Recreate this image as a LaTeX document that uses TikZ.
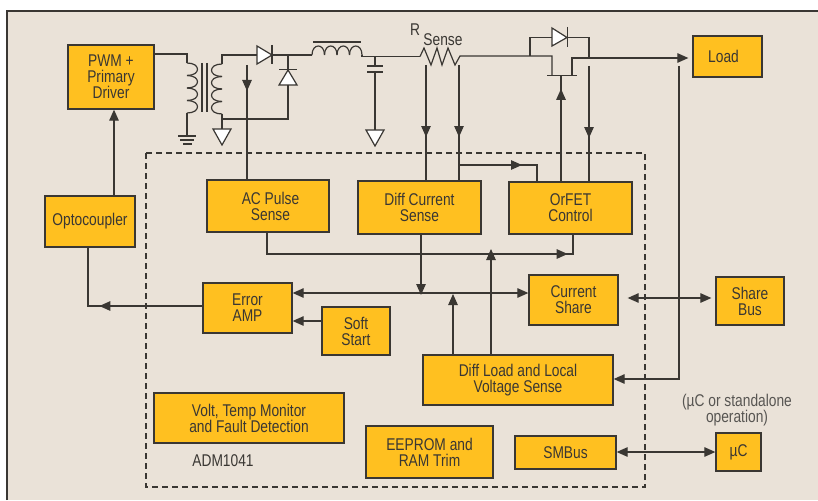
\documentclass[tikz,border=0pt]{standalone}
\usepackage{fontspec}
\setmainfont[FakeStretch=0.81]{Liberation Sans}
\usepackage{tikz}
\usetikzlibrary{
  arrows.meta,
  decorations.markings
}
\definecolor{paper}{HTML}{EAE2D8}
\definecolor{blockfill}{HTML}{FFC020}
\definecolor{ink}{HTML}{3A3733}
\tikzset{
  x=1pt,
  y=-1pt,
  >={Triangle[length=11pt,width=9.5pt]},
  wire/.style={draw=ink, line width=1.2pt},
  block/.style={draw=ink, fill=blockfill, line width=1.3pt, text=ink, inner sep=0pt, align=center,
    font=\fontsize{17}{16}\selectfont},
  label/.style={text=ink, inner sep=0pt, align=center, font=\fontsize{17}{16}\selectfont},
  tipat/.style={postaction={decorate}, decoration={markings, mark=at position #1pt with {\arrow{>}}}},
  gndtri/.pic={\draw[wire, fill=white] (-9,0) -- (9,0) -- (0,16) -- cycle;}
}
\begin{document}
\begin{tikzpicture}
    \useasboundingbox (0,0) rectangle (818,500);
    \fill[paper] (7,11) rectangle (818,500);
    \draw[ink, line width=1.2pt] (7,500) -- (7,11) -- (818,11);
    \draw[ink, line width=1.2pt, dash pattern=on 6pt off 4pt] (146,153) rectangle (645,487);

    \node[block, minimum width=86pt, minimum height=64pt] (pwm) at (111,77) {PWM +\\Primary\\Driver};
    \node[block, minimum width=69pt, minimum height=41pt] (load) at (727.5,56.5) {\hspace*{-8pt}Load};
    \node[block, minimum width=90pt, minimum height=51pt] (opto) at (90,221.5) {Optocoupler};
    \node[block, minimum width=122pt, minimum height=52pt] (acpulse) at (268,206) {\hspace*{5pt}AC Pulse\\\hspace*{5pt}Sense};
    \node[block, minimum width=123pt, minimum height=53pt] (diffcur) at (419.5,207.5) {Diff Current\\Sense};
    \node[block, minimum width=123pt, minimum height=52pt] (orfet) at (570.5,208) {OrFET\\Control};
    \node[block, minimum width=89pt, minimum height=50pt] (erramp) at (247.5,308) {Error\\AMP};
    \node[block, minimum width=68pt, minimum height=48pt] (softstart) at (356,331) {Soft\\Start};
    \node[block, minimum width=89pt, minimum height=50pt] (curshare) at (573.5,300) {Current\\Share};
    \node[block, minimum width=68pt, minimum height=48pt] (sharebus) at (750,301) {Share\\Bus};
    \node[block, minimum width=190pt, minimum height=50pt] (diffload) at (518,380) {Diff Load and Local\\Voltage Sense};
    \node[block, minimum width=190pt, minimum height=50pt] (monitor) at (249,418) {Volt, Temp Monitor\\and Fault Detection};
    \node[block, minimum width=127pt, minimum height=52pt] (eeprom) at (429.5,452) {EEPROM and\\RAM Trim};
    \node[block, minimum width=101pt, minimum height=33pt] (smbus) at (565.5,452.5) {SMBus};
    \node[block, minimum width=45pt, minimum height=38pt] (uc) at (738.5,452) {µC};

    \node[label] (rlabel) at (415,30) {R};
    \node[label] (senselabel) at (443,39.5) {Sense};
    \node[label] (adm) at (223,461) {ADM1041};
    \node[label, text=ink!85] (standalone) at (737,410) {(µC or standalone\\operation)};

    % free ends of the sense lines
    \coordinate (acin) at (247,65);
    \coordinate (senseleft) at (426,65);
    \coordinate (senseright) at (459,65);
    \coordinate (gate) at (561,76);
    \coordinate (drainsense) at (589,66);
    \coordinate (loadsense) at (679,66);
    \coordinate (fetout) at (572,58);

    % power path
    \draw[wire] (pwm.east |- 0,54) -- (187,54) -- (187,63);
    \foreach \k in {0,1,2,3}
      \draw[wire] ({187},{63+12.5*\k}) .. controls ({201},{63+12.5*\k}) and ({201},{75.5+12.5*\k}) .. ({187},{75.5+12.5*\k});
    \draw[wire] (187,113) -- (187,136);
    \draw[wire] (178,136) -- (196,136) (180,140) -- (194,140) (183,144) -- (192,144);
    \draw[wire] (202,63) -- (202,112) (207,63) -- (207,112);
    \foreach \k in {0,1,2,3}
      \draw[wire] ({222},{64+12.5*\k}) .. controls ({208},{64+12.5*\k}) and ({208},{76.5+12.5*\k}) .. ({222},{76.5+12.5*\k});
    \draw[wire] (222,64) -- (222,55) -- (257,55);
    \draw[wire] (222,114) -- (222,129);
    \pic at (222,129) {gndtri};
    \draw[wire, fill=white] (257,46) -- (272,55) -- (257,64) -- cycle;
    \draw[wire] (272,45) -- (272,64);
    \draw[wire] (272,55) -- (312,55);
    \draw[wire] (288,55) -- (288,70);
    \draw[wire, fill=white] (279,85) -- (297,85) -- (288,70) -- cycle;
    \draw[wire] (279,69.5) -- (297,69.5);
    \draw[wire] (288,85) -- (288,119) -- (222,119);
    \foreach \k in {0,1,2,3}
      \draw[wire] ({312+12.5*\k},{55}) .. controls ({312+12.5*\k},{43}) and ({324.5+12.5*\k},{43}) .. ({324.5+12.5*\k},{55});
    \draw[wire] (313,42) -- (361,42);
    \draw[wire] (362,55) -- (362,56.5) -- (420,56.5);
    \draw[wire] (375,56.5) -- (375,66);
    \draw[wire] (367,66) -- (383,66) (367,72) -- (383,72);
    \draw[wire] (375,72) -- (375,130);
    \pic at (375,130) {gndtri};
    \draw[wire] (420,56.5) -- (424,48) -- (431,65) -- (437,48) -- (442,65) -- (448,48) -- (455,65) -- (460,56) -- (552,56) -- (552,75.5);
    \draw[wire] (547,75.5) -- (577,75.5);
    \draw[wire, shorten >=4pt, ->] (572,75.5) -- (fetout) -- (load.west |- fetout);
    \draw[wire] (530,56) -- (530,37.5) -- (552,37.5);
    \draw[wire, fill=white] (552,28) -- (567,37.5) -- (552,46) -- cycle;
    \draw[wire] (567.5,27) -- (567.5,47);
    \draw[wire] (567.5,37.5) -- (589,37.5) -- (589,58);

    % blocks
    \draw[wire, ->] (opto.north -| 114,0) -- (pwm.south -| 114,0);
    \draw[wire, tipat=103] (erramp.west |- 0,306) -- (88,306) -- (opto.south -| 88,0);
    \draw[wire, tipat=26] (acin) -- (acpulse.north -| acin);
    \draw[wire, tipat=72] (senseleft) -- (diffcur.north -| senseleft);
    \draw[wire, tipat=72] (senseright) -- (diffcur.north -| senseright);
    \draw[wire, tipat=63] (459,165) -- (537,165) -- (orfet.north -| 537,0);
    \draw[wire, tipat=92.5] (orfet.north -| gate) -- (gate);
    \draw[wire, tipat=72] (drainsense) -- (orfet.north -| drainsense);
    \draw[wire, ->] (loadsense) -- (679,379) -- (diffload.east |- 0,379);
    \draw[wire, tipat=322] (acpulse.south -| 267,0) -- (267,254) -- (573,254) -- (orfet.south -| 573,0);
    \draw[wire, ->] (diffcur.south -| 421,0) -- (421,295);
    \draw[wire, <->] (erramp.east |- 0,293) -- (curshare.west |- 0,293);
    \draw[wire, ->] (softstart.west |- 0,321) -- (erramp.east |- 0,321);
    \draw[wire, ->] (diffload.north -| 453,0) -- (453,294);
    \draw[wire, ->] (diffload.north -| 491,0) -- (491,249);
    \draw[wire, <->, shorten <=9pt, shorten >=4pt] (curshare.east |- 0,298) -- (sharebus.west |- 0,298);
    \draw[wire, <->] (smbus.east |- 0,452) -- (uc.west |- 0,452);
  \end{tikzpicture}
\end{document}
